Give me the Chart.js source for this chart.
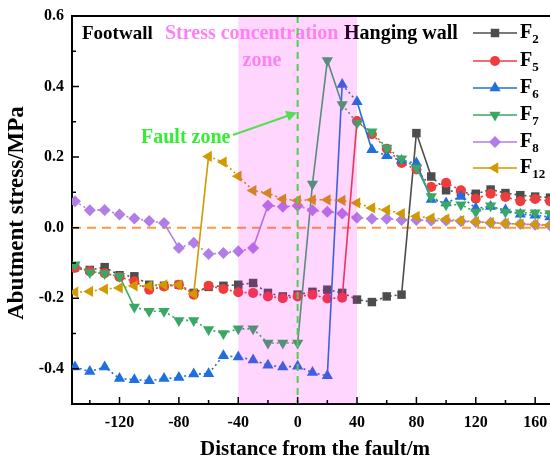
<!DOCTYPE html>
<html lang="en">
<head>
    <meta charset="UTF-8">
    <title>Abutment stress vs distance from the fault</title>
    <script src="https://cdn.jsdelivr.net/npm/chart.js"></script>
    <style>
        body { margin: 0; background: #fff; }
        canvas { display: block; }
    </style>
</head>
<body>
    <canvas id="myChart" width="550" height="460"></canvas>

    <script>
        // Data (x every 10 m)
        const distance = [-150, -140, -130, -120, -110, -100, -90, -80, -70, -60, -50, -40, -30, -20, -10, 0,
            10, 20, 30, 40, 50, 60, 70, 80, 90, 100, 110, 120, 130, 140, 150, 160, 170];

        const f2 = [-0.112, -0.120, -0.112, -0.135, -0.138, -0.162, -0.165, -0.162, -0.185, -0.168, -0.165, -0.162, -0.157, -0.185, -0.195, -0.190,
            -0.182, -0.176, -0.185, -0.204, -0.211, -0.195, -0.190, 0.268, 0.145, 0.106, 0.100, 0.096, 0.108, 0.098, 0.092, 0.088, 0.085];
        const f5 = [-0.114, -0.124, -0.129, -0.140, -0.152, -0.176, -0.167, -0.162, -0.190, -0.165, -0.174, -0.183, -0.185, -0.195, -0.200, -0.195,
            -0.190, -0.201, -0.199, 0.302, 0.265, 0.224, 0.183, 0.165, 0.115, 0.127, 0.106, 0.082, 0.096, 0.087, 0.075, 0.081, 0.075];
        const f6 = [-0.395, -0.408, -0.395, -0.428, -0.431, -0.434, -0.428, -0.425, -0.415, -0.414, -0.363, -0.367, -0.375, -0.390, -0.395, -0.393,
            -0.411, -0.420, 0.406, 0.357, 0.221, 0.204, 0.190, 0.183, 0.080, 0.070, 0.088, 0.055, 0.060, 0.050, 0.038, 0.035, 0.030];
        const f7 = [-0.105, -0.127, -0.130, -0.138, -0.225, -0.237, -0.237, -0.263, -0.263, -0.289, -0.300, -0.287, -0.287, -0.327, -0.327, -0.327,
            0.124, 0.474, 0.349, 0.297, 0.272, 0.226, 0.195, 0.170, 0.088, 0.065, 0.065, 0.044, 0.062, 0.044, 0.042, 0.042, 0.040];
        const f8 = [0.075, 0.049, 0.050, 0.037, 0.026, 0.019, 0.013, -0.058, -0.043, -0.075, -0.072, -0.067, -0.058, 0.063, 0.059, 0.062,
            0.049, 0.045, 0.040, 0.028, 0.025, 0.025, 0.022, 0.022, 0.020, 0.020, 0.018, 0.016, 0.014, 0.012, 0.010, 0.008, 0.006];
        const f12 = [-0.183, -0.181, -0.174, -0.171, -0.165, -0.165, -0.162, -0.162, -0.188, 0.202, 0.186, 0.146, 0.105, 0.098, 0.081, 0.077,
            0.079, 0.079, 0.077, 0.070, 0.056, 0.050, 0.040, 0.032, 0.027, 0.024, 0.020, 0.017, 0.014, 0.012, 0.010, 0.009, 0.008];

        const xTickValues = [-120, -80, -40, 0, 40, 80, 120, 160];
        const yTickValues = [-0.4, -0.2, 0.0, 0.2, 0.4, 0.6];
        const zoneStart = -40, zoneEnd = 40;

        const FONT = '"Liberation Serif", "Times New Roman", serif';

        const seriesInfo = [
            { sub: '2',  data: f2,  color: '#4d4d4d', style: 'rect',     radius: 6,   rotation: 0 },
            { sub: '5',  data: f5,  color: '#f03c3c', style: 'circle',   radius: 5,   rotation: 0 },
            { sub: '6',  data: f6,  color: '#1f6fde', style: 'triangle', radius: 6.5, rotation: 0 },
            { sub: '7',  data: f7,  color: '#3aa865', style: 'triangle', radius: 6.5, rotation: 180 },
            { sub: '8',  data: f8,  color: '#b07ee6', style: 'rectRot',  radius: 6,   rotation: 0 },
            { sub: '12', data: f12, color: '#d09a00', style: 'triangle', radius: 6.5, rotation: -90 }
        ];

        // big jumps are drawn as solid lines, the rest dotted
        const segDash = c => Math.abs(c.p1.parsed.y - c.p0.parsed.y) > 0.06 ? [] : [2, 3];

        const datasets = seriesInfo.map((s, i) => ({
            label: 'F' + s.sub,
            data: s.data,
            borderColor: s.color,
            backgroundColor: s.color,
            borderWidth: 1.6,
            pointStyle: s.style,
            pointRadius: s.radius,
            pointRotation: s.rotation,
            pointBorderWidth: 0,
            order: seriesInfo.length - i,
            clip: 0,
            segment: { borderDash: segDash }
        }));

        const decor = {
            id: 'decor',
            beforeDatasetsDraw(chart) {
                const { ctx, chartArea: a, scales: { x, y } } = chart;
                ctx.save();
                // zero line
                const y0 = y.getPixelForValue(0);
                ctx.strokeStyle = '#ff9a3c';
                ctx.lineWidth = 2;
                ctx.setLineDash([9, 6]);
                ctx.beginPath();
                ctx.moveTo(a.left, y0);
                ctx.lineTo(a.right, y0);
                ctx.stroke();
                ctx.setLineDash([]);
                ctx.restore();
            },
            afterDatasetsDraw(chart) {
                const { ctx, chartArea: a, scales: { x, y } } = chart;
                ctx.save();

                ctx.textBaseline = 'middle';
                ctx.textAlign = 'left';
                ctx.fillStyle = '#000';
                ctx.font = 'bold 19px ' + FONT;
                ctx.fillText('Footwall', 82, 34);
                ctx.font = 'bold 20px ' + FONT;
                ctx.fillText('Hanging wall', 344, 34);

                // stress concentration zone, drawn over the curves
                const zx0 = x.getPixelForValue(zoneStart), zx1 = x.getPixelForValue(zoneEnd);
                ctx.fillStyle = 'rgba(255, 0, 240, 0.16)';
                ctx.fillRect(zx0, a.top, zx1 - zx0, a.bottom - a.top);

                ctx.fillStyle = '#ff80f2';
                ctx.fillText('Stress concentration', 165, 34);
                ctx.textAlign = 'center';
                ctx.fillText('zone', 262, 61);

                // fault line
                const fx = x.getPixelForValue(0);
                ctx.strokeStyle = '#4fd04f';
                ctx.lineWidth = 2;
                ctx.setLineDash([7, 5]);
                ctx.beginPath();
                ctx.moveTo(fx, a.top);
                ctx.lineTo(fx, a.bottom);
                ctx.stroke();
                ctx.setLineDash([]);

                // fault zone label and arrow
                ctx.fillStyle = '#33ee33';
                ctx.textAlign = 'left';
                ctx.fillText('Fault zone', 141, 138);
                ctx.strokeStyle = '#55dd55';
                ctx.lineWidth = 2;
                ctx.beginPath();
                ctx.moveTo(233, 135);
                ctx.lineTo(290, 115);
                ctx.stroke();
                ctx.fillStyle = '#55dd55';
                ctx.beginPath();
                ctx.moveTo(297, 112.5);
                ctx.lineTo(285, 111);
                ctx.lineTo(289, 121);
                ctx.closePath();
                ctx.fill();

                // frame top and inward ticks
                ctx.strokeStyle = '#000';
                ctx.lineWidth = 2;
                ctx.beginPath();
                ctx.moveTo(a.left - 1, a.top);
                ctx.lineTo(a.right, a.top);
                ctx.stroke();

                ctx.lineWidth = 1.5;
                ctx.beginPath();
                for (let k = -5; k <= 6; k++) {
                    const py = y.getPixelForValue(k / 10);
                    const len = k % 2 === 0 ? 7 : 4;
                    ctx.moveTo(a.left, py);
                    ctx.lineTo(a.left + len, py);
                }
                for (let v = -140; v <= 170; v += 20) {
                    const px = x.getPixelForValue(v);
                    const len = v % 40 === 0 ? 7 : 4;
                    ctx.moveTo(px, a.bottom);
                    ctx.lineTo(px, a.bottom - len);
                }
                ctx.stroke();

                // axis titles
                ctx.fillStyle = '#000';
                ctx.textAlign = 'center';
                ctx.textBaseline = 'middle';
                ctx.font = 'bold 21px ' + FONT;
                ctx.fillText('Distance from the fault/m', 315, 450);
                ctx.save();
                ctx.translate(17, 213);
                ctx.rotate(-Math.PI / 2);
                ctx.font = 'bold 23px ' + FONT;
                ctx.fillText('Abutment stress/MPa', 0, 0);
                ctx.restore();

                // legend
                const lx0 = 473, lx1 = 517, lxm = 495;
                const ly = [33, 61, 88, 115, 142, 168];
                seriesInfo.forEach((s, i) => {
                    ctx.strokeStyle = s.color;
                    ctx.fillStyle = s.color;
                    ctx.lineWidth = 1.6;
                    ctx.beginPath();
                    ctx.moveTo(lx0, ly[i]);
                    ctx.lineTo(lx1, ly[i]);
                    ctx.stroke();
                    Chart.helpers.drawPoint(ctx, {
                        pointStyle: s.style, radius: s.radius, rotation: s.rotation, borderWidth: 0
                    }, lxm, ly[i]);
                    ctx.fillStyle = '#000';
                    ctx.textAlign = 'left';
                    ctx.textBaseline = 'middle';
                    ctx.font = 'bold 20px ' + FONT;
                    ctx.fillText('F', 520, ly[i]);
                    const w = ctx.measureText('F').width;
                    ctx.font = 'bold 13px ' + FONT;
                    ctx.fillText(s.sub, 520 + w, ly[i] + 7);
                });

                ctx.restore();
            }
        };

        const ctx = document.getElementById('myChart').getContext('2d');
        const myChart = new Chart(ctx, {
            type: 'line',
            data: { labels: distance, datasets: datasets },
            options: {
                responsive: false,
                animation: false,
                layout: { autoPadding: false, padding: { top: 16, right: 0, left: 0, bottom: 0 } },
                plugins: { legend: { display: false }, tooltip: { enabled: false } },
                scales: {
                    x: {
                        type: 'linear',
                        min: -152,
                        max: 170,
                        afterFit: s => { s.height = 56; s.paddingLeft = 0; s.paddingRight = 0; },
                        afterBuildTicks: s => { s.ticks = xTickValues.map(v => ({ value: v })); },
                        grid: { display: false, drawTicks: false },
                        border: { display: true, color: '#000', width: 2 },
                        ticks: {
                            color: '#000',
                            padding: 9,
                            maxRotation: 0,
                            font: { family: FONT, size: 16, weight: 'bold' },
                            callback: v => String(v)
                        }
                    },
                    y: {
                        min: -0.5,
                        max: 0.6,
                        afterFit: s => { s.width = 72; s.paddingTop = 0; s.paddingBottom = 0; },
                        afterBuildTicks: s => { s.ticks = yTickValues.map(v => ({ value: v })); },
                        grid: { display: false, drawTicks: false },
                        border: { display: true, color: '#000', width: 2 },
                        ticks: {
                            color: '#000',
                            padding: 8,
                            font: { family: FONT, size: 16, weight: 'bold' },
                            callback: v => v.toFixed(1)
                        }
                    }
                }
            },
            plugins: [decor]
        });
    </script>
</body>
</html>
